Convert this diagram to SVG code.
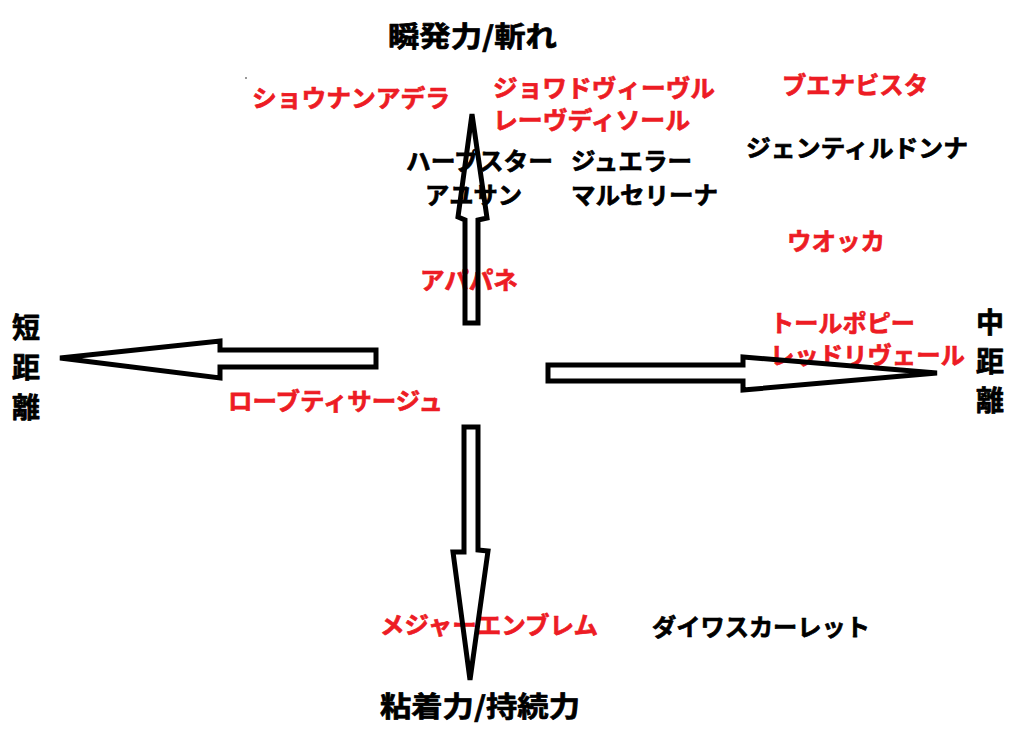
<svg xmlns="http://www.w3.org/2000/svg" width="1024" height="741" viewBox="0 0 1024 741">
<style>
text{font-family:"Noto Sans CJK JP","Noto Sans",sans-serif;font-weight:bold;stroke-width:0.7;stroke-linejoin:round;}
.r{fill:#ED1C24;stroke:#ED1C24;font-size:24px;}
.k{fill:#000;stroke:#000;font-size:24px;}
.ax{fill:#000;stroke:#000;font-size:28px;}
.arrow{fill:none;stroke:#000;stroke-width:5;stroke-linejoin:miter;}
</style>
<rect width="1024" height="741" fill="#fff"/>
<rect x="245" y="77" width="2" height="2" fill="#999"/>
<g id="axis-top"><text class="ax" x="388" y="47" textLength="169" lengthAdjust="spacingAndGlyphs">瞬発力/斬れ</text></g>
<g id="axis-bottom"><text class="ax" x="380" y="717" textLength="200" lengthAdjust="spacingAndGlyphs">粘着力/持続力</text></g>
<g id="axis-left"><text class="ax" x="26" y="338" text-anchor="middle">短</text><text class="ax" x="26" y="378" text-anchor="middle">距</text><text class="ax" x="26" y="418" text-anchor="middle">離</text></g>
<g id="axis-right"><text class="ax" x="990" y="333" text-anchor="middle">中</text><text class="ax" x="990" y="372" text-anchor="middle">距</text><text class="ax" x="990" y="411" text-anchor="middle">離</text></g>
<g id="shonan-adera"><text class="r" x="252" y="107" textLength="198" lengthAdjust="spacingAndGlyphs">ショウナンアデラ</text></g>
<g id="joie-de-vivre"><text class="r" x="493" y="97" textLength="222" lengthAdjust="spacingAndGlyphs">ジョワドヴィーヴル</text></g>
<g id="reve-dassoul"><text class="r" x="493" y="129" textLength="197" lengthAdjust="spacingAndGlyphs">レーヴディソール</text></g>
<g id="harp-star"><text class="k" x="406" y="170" textLength="147" lengthAdjust="spacingAndGlyphs">ハープスター</text></g>
<g id="ayusan"><text class="k" x="425" y="204" textLength="97" lengthAdjust="spacingAndGlyphs">アユサン</text></g>
<g id="jeweller"><text class="k" x="571" y="170" textLength="121" lengthAdjust="spacingAndGlyphs">ジュエラー</text></g>
<g id="marcellina"><text class="k" x="571" y="204" textLength="147" lengthAdjust="spacingAndGlyphs">マルセリーナ</text></g>
<g id="buena-vista"><text class="r" x="782" y="94" textLength="146" lengthAdjust="spacingAndGlyphs">ブエナビスタ</text></g>
<g id="gentildonna"><text class="k" x="746" y="157" textLength="222" lengthAdjust="spacingAndGlyphs">ジェンティルドンナ</text></g>
<g id="vodka"><text class="r" x="787" y="250" textLength="98" lengthAdjust="spacingAndGlyphs">ウオッカ</text></g>
<g id="apapane"><text class="r" x="420" y="289" textLength="98" lengthAdjust="spacingAndGlyphs">アパパネ</text></g>
<g id="tall-poppy"><text class="r" x="770" y="332" textLength="145" lengthAdjust="spacingAndGlyphs">トールポピー</text></g>
<g id="red-reveur"><text class="r" x="770" y="364" textLength="195" lengthAdjust="spacingAndGlyphs">レッドリヴェール</text></g>
<g id="robe-tissage"><text class="r" x="228" y="410" textLength="215" lengthAdjust="spacingAndGlyphs">ローブティサージュ</text></g>
<g id="major-emblem"><text class="r" x="380" y="634" textLength="218" lengthAdjust="spacingAndGlyphs">メジャーエンブレム</text></g>
<g id="daiwa-scarlet"><text class="k" x="652" y="636" textLength="218" lengthAdjust="spacingAndGlyphs">ダイワスカーレット</text></g>
<g id="connectors">
<polygon class="arrow" points="472,114 487,218 478,220 478,323 465,323 465,220 458,217"/>
<polygon class="arrow" points="464,427 478,427 478,550 488,551 470,680 453,552 464,552"/>
<polygon class="arrow" points="60,358 220,341 220,350 376,350 376,367 220,367 220,378"/>
<polygon class="arrow" points="548,365 743,365 743,357 937,373 743,390 743,381 548,381"/>
</g>
</svg>
